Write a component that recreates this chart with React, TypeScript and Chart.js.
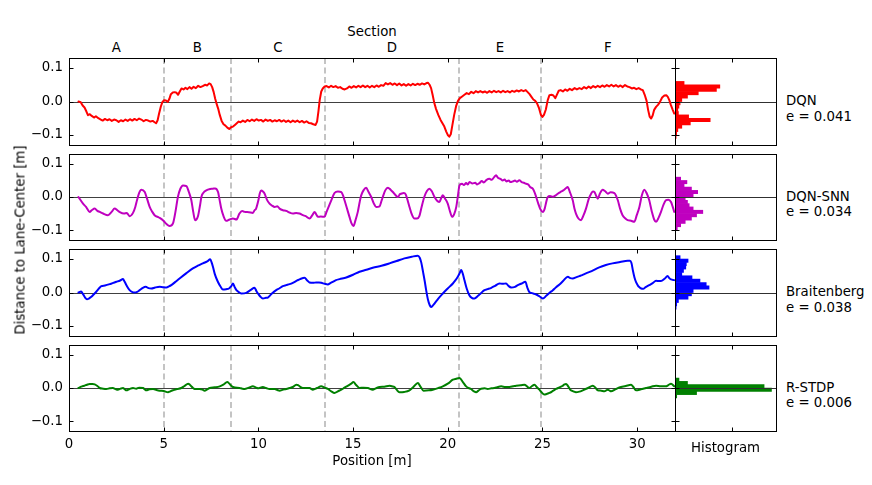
import React, { useEffect, useRef } from "react";
import { Chart, registerables } from "chart.js";
Chart.register(...registerables);

type Pt = [number, number];

// ---------------- DATA ----------------
const seriesNames = ["DQN", "DQN-SNN", "Braitenberg", "R-STDP"];
const seriesErrors = ["0.041", "0.034", "0.038", "0.006"];
const sectionNames = ["A", "B", "C", "D", "E", "F"];
const sectionBounds = [5.0, 8.55, 13.5, 20.6, 24.9];
const xTickValues = [0, 5, 10, 15, 20, 25, 30];
const yTickValues = [-0.1, 0, 0.1];
const histTickValues = [100];

// [position m, distance m]
const dqn: Pt[] = [
  [0.5,0],[0.62,-0.002],[0.72,-0.012],[0.82,-0.018],[0.92,-0.03],[1.0,-0.041],[1.1,-0.038],[1.2,-0.043],[1.32,-0.048],[1.42,-0.044],[1.55,-0.05],[1.68,-0.054],[1.78,-0.057],[1.9,-0.052],[2.02,-0.056],[2.14,-0.053],[2.26,-0.058],[2.38,-0.054],[2.5,-0.056],[2.62,-0.061],[2.74,-0.056],[2.86,-0.059],[2.98,-0.054],[3.1,-0.058],[3.22,-0.053],[3.34,-0.057],[3.46,-0.052],[3.58,-0.056],[3.7,-0.051],[3.82,-0.054],[3.94,-0.059],[4.06,-0.055],[4.18,-0.057],[4.3,-0.06],[4.42,-0.058],[4.52,-0.062],[4.6,-0.065],[4.68,-0.056],[4.76,-0.035],[4.85,-0.015],[4.93,-0.002],[5.02,0.004],[5.12,0.003],[5.22,-0.001],[5.3,0.008],[5.38,0.022],[5.48,0.027],[5.58,0.028],[5.68,0.026],[5.76,0.02],[5.85,0.03],[5.94,0.039],[6.05,0.036],[6.15,0.041],[6.25,0.037],[6.36,0.043],[6.47,0.038],[6.58,0.044],[6.7,0.04],[6.82,0.047],[6.94,0.043],[7.06,0.046],[7.18,0.05],[7.3,0.048],[7.4,0.054],[7.48,0.052],[7.56,0.043],[7.64,0.028],[7.72,0.008],[7.8,-0.008],[7.88,-0.022],[7.96,-0.04],[8.06,-0.058],[8.16,-0.068],[8.26,-0.072],[8.36,-0.078],[8.46,-0.082],[8.56,-0.077],[8.66,-0.075],[8.76,-0.07],[8.86,-0.065],[8.96,-0.06],[9.06,-0.062],[9.18,-0.057],[9.3,-0.061],[9.42,-0.055],[9.54,-0.059],[9.66,-0.054],[9.78,-0.058],[9.9,-0.053],[10.02,-0.057],[10.14,-0.055],[10.26,-0.06],[10.38,-0.054],[10.5,-0.058],[10.62,-0.055],[10.74,-0.06],[10.86,-0.056],[10.98,-0.059],[11.1,-0.055],[11.22,-0.06],[11.34,-0.056],[11.46,-0.061],[11.58,-0.057],[11.7,-0.062],[11.82,-0.057],[11.94,-0.061],[12.06,-0.057],[12.18,-0.062],[12.3,-0.058],[12.42,-0.063],[12.54,-0.059],[12.66,-0.064],[12.78,-0.065],[12.9,-0.068],[13.02,-0.07],[13.1,-0.06],[13.17,-0.03],[13.24,0.005],[13.32,0.03],[13.4,0.039],[13.5,0.045],[13.6,0.046],[13.72,0.042],[13.84,0.047],[13.96,0.043],[14.08,0.046],[14.2,0.041],[14.32,0.043],[14.44,0.038],[14.56,0.036],[14.68,0.039],[14.8,0.045],[14.92,0.041],[15.04,0.046],[15.16,0.042],[15.28,0.047],[15.4,0.043],[15.52,0.048],[15.64,0.043],[15.76,0.047],[15.88,0.042],[16.0,0.047],[16.12,0.043],[16.24,0.048],[16.36,0.044],[16.48,0.049],[16.6,0.047],[16.72,0.055],[16.84,0.051],[16.96,0.055],[17.08,0.05],[17.2,0.054],[17.32,0.049],[17.44,0.054],[17.56,0.048],[17.68,0.052],[17.8,0.047],[17.92,0.052],[18.04,0.048],[18.16,0.053],[18.28,0.049],[18.4,0.053],[18.52,0.05],[18.64,0.054],[18.76,0.051],[18.88,0.055],[18.96,0.056],[19.04,0.05],[19.12,0.04],[19.2,0.02],[19.28,-0.002],[19.38,-0.022],[19.5,-0.04],[19.62,-0.055],[19.72,-0.065],[19.82,-0.075],[19.92,-0.09],[20.0,-0.1],[20.08,-0.105],[20.16,-0.098],[20.24,-0.072],[20.34,-0.04],[20.44,-0.014],[20.54,0.002],[20.64,0.01],[20.76,0.015],[20.88,0.02],[21.0,0.025],[21.12,0.022],[21.24,0.029],[21.36,0.025],[21.48,0.031],[21.6,0.027],[21.72,0.031],[21.84,0.027],[21.96,0.03],[22.08,0.026],[22.2,0.031],[22.32,0.027],[22.44,0.032],[22.56,0.028],[22.68,0.031],[22.8,0.027],[22.92,0.032],[23.04,0.028],[23.16,0.031],[23.28,0.027],[23.4,0.032],[23.52,0.029],[23.64,0.033],[23.76,0.03],[23.88,0.034],[24.0,0.031],[24.12,0.034],[24.22,0.028],[24.32,0.022],[24.42,0.014],[24.52,0.006],[24.62,0.002],[24.72,-0.006],[24.82,-0.02],[24.92,-0.04],[25.0,-0.046],[25.08,-0.04],[25.18,-0.024],[25.28,0.004],[25.37,0.019],[25.48,0.02],[25.58,0.018],[25.68,0.01],[25.76,0.02],[25.86,0.032],[25.96,0.034],[26.08,0.03],[26.2,0.036],[26.32,0.032],[26.44,0.038],[26.56,0.034],[26.7,0.04],[26.82,0.036],[26.95,0.04],[27.08,0.037],[27.2,0.043],[27.32,0.039],[27.44,0.045],[27.56,0.04],[27.68,0.046],[27.8,0.042],[27.92,0.047],[28.04,0.043],[28.16,0.048],[28.28,0.044],[28.4,0.049],[28.52,0.045],[28.64,0.05],[28.76,0.045],[28.88,0.049],[29.0,0.044],[29.12,0.048],[29.24,0.043],[29.36,0.049],[29.48,0.045],[29.6,0.043],[29.72,0.039],[29.84,0.041],[29.96,0.037],[30.08,0.04],[30.2,0.036],[30.3,0.034],[30.4,0.02],[30.5,0.002],[30.58,-0.025],[30.66,-0.045],[30.74,-0.051],[30.82,-0.042],[30.9,-0.025],[31.0,-0.016],[31.1,-0.01],[31.2,-0.002],[31.32,0.012],[31.44,0.018],[31.54,0.019],[31.62,0.014],[31.7,0.004],[31.78,-0.01],[31.88,-0.025],[31.96,-0.036]
];

const dqnSnn: Pt[] = [
  [0.5,0],[0.74,-0.02],[0.9,-0.03],[1.09,-0.045],[1.2,-0.04],[1.36,-0.035],[1.5,-0.042],[1.62,-0.045],[1.8,-0.05],[2.06,-0.055],[2.25,-0.045],[2.41,-0.035],[2.55,-0.04],[2.67,-0.045],[2.9,-0.05],[3.05,-0.048],[3.2,-0.058],[3.38,-0.048],[3.5,-0.03],[3.59,-0.01],[3.7,0.012],[3.82,0.022],[4.0,0.015],[4.12,-0.005],[4.26,-0.03],[4.4,-0.045],[4.52,-0.055],[4.75,-0.062],[4.96,-0.07],[5.15,-0.082],[5.31,-0.088],[5.49,-0.08],[5.62,-0.045],[5.75,0],[5.88,0.025],[6.02,0.035],[6.2,0.033],[6.33,0.015],[6.46,-0.01],[6.56,-0.045],[6.66,-0.07],[6.81,-0.058],[6.92,-0.025],[6.99,0],[7.1,0.013],[7.25,0.02],[7.45,0.024],[7.6,0.025],[7.72,0.026],[7.87,0.015],[7.95,-0.008],[8.04,-0.035],[8.16,-0.058],[8.3,-0.072],[8.48,-0.068],[8.66,-0.065],[8.84,-0.068],[9.0,-0.05],[9.14,-0.042],[9.27,-0.045],[9.5,-0.046],[9.71,-0.048],[9.8,-0.04],[9.88,-0.035],[10.0,-0.01],[10.08,0.012],[10.15,0.02],[10.25,0.016],[10.33,0.01],[10.45,-0.008],[10.59,-0.02],[10.72,-0.026],[10.86,-0.03],[11.0,-0.028],[11.12,-0.035],[11.3,-0.04],[11.47,-0.042],[11.65,-0.047],[11.82,-0.05],[12.0,-0.048],[12.17,-0.05],[12.35,-0.055],[12.5,-0.058],[12.7,-0.065],[12.85,-0.055],[12.97,-0.045],[13.05,-0.052],[13.14,-0.06],[13.3,-0.059],[13.49,-0.06],[13.6,-0.045],[13.67,-0.035],[13.85,-0.01],[14.02,0.012],[14.2,0.017],[14.38,0.015],[14.47,0.005],[14.55,-0.01],[14.68,-0.035],[14.81,-0.06],[14.92,-0.08],[15.02,-0.088],[15.13,-0.07],[15.25,-0.045],[15.35,-0.015],[15.43,0.005],[15.55,0.02],[15.69,0.028],[15.82,0.015],[15.96,0],[16.1,-0.02],[16.22,-0.03],[16.4,-0.028],[16.5,-0.012],[16.57,0],[16.7,0.02],[16.84,0.028],[16.98,0.022],[17.1,0.015],[17.25,0.005],[17.37,0],[17.47,0.008],[17.55,0.01],[17.68,0.012],[17.78,0.008],[17.88,-0.01],[17.98,-0.03],[18.1,-0.052],[18.24,-0.065],[18.38,-0.065],[18.5,-0.058],[18.6,-0.035],[18.76,0],[18.9,0.018],[19.03,0.025],[19.15,0.018],[19.3,0],[19.45,-0.012],[19.56,-0.015],[19.66,-0.002],[19.74,0.005],[19.86,-0.005],[20.0,-0.02],[20.1,-0.04],[20.23,-0.06],[20.35,-0.05],[20.45,-0.03],[20.54,0.005],[20.62,0.035],[20.75,0.04],[20.85,0.036],[20.97,0.042],[21.06,0.038],[21.15,0.045],[21.3,0.041],[21.45,0.043],[21.55,0.038],[21.67,0.042],[21.8,0.048],[21.9,0.044],[22.05,0.052],[22.2,0.055],[22.32,0.052],[22.45,0.06],[22.55,0.066],[22.65,0.058],[22.78,0.055],[22.9,0.05],[23.0,0.053],[23.1,0.047],[23.22,0.05],[23.32,0.045],[23.43,0.047],[23.55,0.05],[23.65,0.046],[23.78,0.051],[23.9,0.045],[24.02,0.043],[24.14,0.04],[24.25,0.038],[24.35,0.03],[24.49,0.025],[24.58,0.015],[24.67,0],[24.78,-0.02],[24.9,-0.038],[25.02,-0.045],[25.12,-0.035],[25.2,-0.015],[25.28,0],[25.4,0.003],[25.55,0.001],[25.7,0.005],[25.81,0.01],[25.95,0.015],[26.1,0.02],[26.25,0.027],[26.33,0.03],[26.45,0.015],[26.6,-0.01],[26.69,-0.035],[26.77,-0.05],[26.9,-0.065],[27.04,-0.07],[27.15,-0.058],[27.3,-0.035],[27.45,-0.005],[27.57,0.01],[27.67,0.017],[27.75,0.015],[27.85,0.002],[27.92,-0.005],[28.03,0.01],[28.18,0.022],[28.3,0.018],[28.45,0.01],[28.6,0.014],[28.8,0.012],[28.9,0.002],[28.98,-0.01],[29.1,-0.035],[29.23,-0.055],[29.38,-0.065],[29.5,-0.07],[29.68,-0.072],[29.85,-0.075],[29.98,-0.055],[30.12,-0.03],[30.25,0.005],[30.38,0.022],[30.5,0.012],[30.64,-0.01],[30.78,-0.045],[30.9,-0.068],[31.0,-0.075],[31.13,-0.063],[31.26,-0.045],[31.4,-0.022],[31.52,-0.01],[31.65,-0.008],[31.79,-0.015],[31.88,-0.03],[31.96,-0.045]
];

const braitenberg: Pt[] = [
  [0.5,0],[0.64,0.003],[0.74,-0.005],[0.85,-0.015],[0.95,-0.02],[1.05,-0.018],[1.18,-0.013],[1.3,-0.006],[1.45,0.003],[1.58,0.012],[1.71,0.019],[1.9,0.021],[2.15,0.025],[2.3,0.028],[2.5,0.032],[2.7,0.036],[2.85,0.04],[2.94,0.032],[3.05,0.02],[3.2,0.007],[3.35,0.001],[3.47,0],[3.6,0.002],[3.73,0.007],[3.9,0.014],[4.05,0.017],[4.2,0.013],[4.35,0.012],[4.55,0.015],[4.79,0.017],[4.95,0.016],[5.14,0.015],[5.3,0.019],[5.4,0.022],[5.6,0.031],[5.84,0.042],[6.2,0.058],[6.54,0.072],[6.8,0.08],[7.07,0.087],[7.3,0.093],[7.46,0.099],[7.53,0.09],[7.6,0.077],[7.7,0.055],[7.86,0.032],[8.0,0.018],[8.13,0.009],[8.3,0.01],[8.45,0.012],[8.56,0.018],[8.66,0.027],[8.75,0.016],[8.84,0.007],[9.0,0],[9.1,-0.003],[9.36,-0.001],[9.6,0.008],[9.8,0.014],[9.9,0.004],[9.98,-0.003],[10.1,-0.012],[10.24,-0.018],[10.4,-0.016],[10.5,-0.015],[10.7,-0.004],[10.94,0.007],[11.1,0.012],[11.29,0.019],[11.47,0.022],[11.65,0.025],[11.82,0.029],[12.05,0.036],[12.2,0.04],[12.44,0.044],[12.58,0.036],[12.7,0.03],[12.9,0.029],[13.05,0.03],[13.2,0.03],[13.32,0.029],[13.5,0.026],[13.67,0.024],[13.8,0.028],[13.93,0.032],[14.1,0.037],[14.29,0.04],[14.64,0.045],[15.0,0.053],[15.34,0.062],[15.7,0.068],[16.04,0.074],[16.5,0.08],[16.92,0.087],[17.3,0.094],[17.71,0.102],[18.1,0.107],[18.42,0.11],[18.52,0.104],[18.6,0.09],[18.7,0.06],[18.78,0.035],[18.86,0.007],[18.95,-0.02],[19.05,-0.038],[19.12,-0.043],[19.2,-0.04],[19.3,-0.033],[19.5,-0.018],[19.74,-0.003],[20.0,0.012],[20.27,0.027],[20.4,0.036],[20.53,0.047],[20.63,0.058],[20.71,0.067],[20.8,0.055],[20.88,0.037],[21.0,0.012],[21.14,-0.008],[21.27,-0.016],[21.41,-0.018],[21.6,-0.01],[21.75,-0.002],[21.94,0.007],[22.1,0.01],[22.3,0.014],[22.5,0.02],[22.73,0.027],[22.9,0.026],[23.08,0.027],[23.2,0.02],[23.35,0.015],[23.55,0.017],[23.7,0.022],[23.9,0.027],[24.1,0.032],[24.2,0.015],[24.3,0.002],[24.45,-0.002],[24.67,-0.006],[24.85,-0.012],[25.02,-0.018],[25.2,-0.01],[25.35,-0.002],[25.55,0.007],[25.72,0.016],[25.9,0.024],[26.1,0.035],[26.34,0.047],[26.47,0.043],[26.6,0.042],[26.8,0.046],[26.95,0.049],[27.1,0.052],[27.3,0.057],[27.6,0.064],[28.0,0.075],[28.35,0.082],[28.7,0.087],[29.1,0.091],[29.5,0.095],[29.62,0.095],[29.7,0.088],[29.78,0.065],[29.86,0.045],[29.95,0.03],[30.05,0.02],[30.12,0.016],[30.22,0.012],[30.32,0.011],[30.45,0.016],[30.64,0.022],[30.82,0.028],[31.0,0.035],[31.15,0.034],[31.26,0.034],[31.45,0.041],[31.61,0.049],[31.7,0.043],[31.79,0.039],[31.96,0.037]
];

const rstdp: Pt[] = [
  [0.5,0],[0.65,0.004],[0.8,0.007],[0.95,0.01],[1.09,0.012],[1.25,0.012],[1.36,0.011],[1.5,0.006],[1.62,0],[1.8,-0.002],[1.97,-0.003],[2.15,-0.001],[2.32,0],[2.45,-0.003],[2.58,-0.005],[2.72,-0.002],[2.85,0],[2.95,-0.004],[3.03,-0.007],[3.2,-0.003],[3.38,0],[3.55,-0.002],[3.7,0.001],[3.91,0],[4.0,-0.004],[4.08,-0.007],[4.25,-0.004],[4.44,-0.003],[4.62,-0.006],[4.79,-0.008],[5.0,-0.009],[5.23,-0.013],[5.35,-0.01],[5.49,-0.007],[5.7,-0.003],[5.93,0],[6.1,0.006],[6.29,0.013],[6.38,0.01],[6.46,0.005],[6.55,0],[6.63,-0.003],[6.9,-0.003],[7.05,-0.005],[7.16,-0.008],[7.3,-0.004],[7.43,0],[7.7,0.002],[7.96,0.005],[8.15,0.01],[8.36,0.018],[8.45,0.014],[8.55,0.008],[8.66,0.003],[9.0,0],[9.15,-0.002],[9.27,-0.003],[9.5,0.001],[9.71,0.005],[9.85,0.002],[9.98,-0.001],[10.1,0.001],[10.24,0.003],[10.4,0],[10.59,-0.003],[10.86,-0.003],[11.0,-0.006],[11.12,-0.008],[11.3,-0.005],[11.47,-0.003],[11.65,0],[11.82,0.003],[12.0,0.01],[12.1,0.009],[12.2,0.004],[12.35,0],[12.7,0],[12.88,-0.005],[13.1,0],[13.32,0.005],[13.5,0.001],[13.67,-0.003],[13.85,-0.01],[14.02,-0.015],[14.2,-0.01],[14.38,-0.005],[14.55,0.001],[14.73,0.007],[14.9,0.013],[15.02,0.018],[15.15,0.01],[15.34,0],[15.55,0.001],[15.78,0],[16.04,-0.005],[16.2,-0.001],[16.4,0.003],[16.65,0.004],[16.92,0.007],[17.05,0.005],[17.19,0.003],[17.3,-0.005],[17.45,-0.013],[17.7,-0.012],[17.98,-0.007],[18.2,0.004],[18.42,0.015],[18.55,0.005],[18.72,-0.008],[19.0,-0.007],[19.21,-0.005],[19.5,0],[19.74,0.005],[20.0,0.013],[20.27,0.025],[20.45,0.028],[20.62,0.03],[20.8,0.018],[20.97,0.005],[21.1,0],[21.23,-0.003],[21.38,-0.01],[21.5,-0.013],[21.62,-0.008],[21.76,-0.002],[21.95,-0.001],[22.11,-0.003],[22.3,-0.001],[22.46,0],[22.65,0.003],[22.82,0.005],[23.05,0.003],[23.26,0.003],[23.45,0.005],[23.61,0.007],[23.85,0.008],[24.05,0.01],[24.2,0.004],[24.31,0],[24.45,0.006],[24.58,0.01],[24.7,0.003],[24.84,-0.005],[24.95,-0.013],[25.1,-0.02],[25.22,-0.018],[25.37,-0.015],[25.55,-0.009],[25.72,-0.003],[25.9,0.002],[26.05,0.006],[26.14,0.01],[26.25,0.012],[26.35,0.006],[26.5,-0.007],[26.63,-0.01],[26.77,-0.013],[26.95,-0.011],[27.13,-0.007],[27.4,0],[27.66,0.007],[27.8,0.001],[27.92,-0.007],[28.1,-0.008],[28.27,-0.01],[28.45,-0.005],[28.55,-0.008],[28.62,-0.01],[28.85,-0.004],[29.06,0.002],[29.4,0.006],[29.68,0.01],[29.8,0.003],[29.94,-0.007],[30.2,-0.004],[30.47,0],[30.75,0.004],[31.0,0.007],[31.25,0.005],[31.52,0.005],[31.65,0.009],[31.79,0.013],[31.96,0.005]
];

// histogram: [bin centre m, count]
const dqnHist: Pt[] = [[0.055,16],[0.045,79],[0.035,73],[0.025,41],[0.015,22],[0.005,12],[-0.005,9],[-0.015,7],[-0.025,5],[-0.035,6],[-0.045,24],[-0.055,62],[-0.065,27],[-0.075,12],[-0.085,5],[-0.095,3],[-0.105,2]];
const dqnSnnHist: Pt[] = [[0.055,10],[0.045,21],[0.035,16],[0.025,29],[0.015,40],[0.005,32],[-0.005,18],[-0.015,22],[-0.025,25],[-0.035,32],[-0.045,49],[-0.055,38],[-0.065,29],[-0.075,18],[-0.085,10],[-0.095,4]];
const braitenbergHist: Pt[] = [[0.105,9],[0.095,23],[0.085,20],[0.075,19],[0.065,15],[0.055,12],[0.045,30],[0.035,44],[0.025,55],[0.015,60],[0.005,32],[-0.005,29],[-0.015,23],[-0.025,6],[-0.035,3],[-0.045,2]];
const rstdpHist: Pt[] = [[0.025,7],[0.015,22],[0.005,157],[-0.005,170],[-0.015,38],[-0.025,3]];

const seriesLines = [dqn, dqnSnn, braitenberg, rstdp];
const seriesHists = [dqnHist, dqnSnnHist, braitenbergHist, rstdpHist];

// ---------------- STYLE / LAYOUT ----------------
const COLORS = ["#ff0000", "#bf00bf", "#0000ff", "#008000"];
const SMOOTH = [false, true, true, true];
const FONT = '"DejaVu Sans", Verdana, sans-serif';
const FS = 13.3;
const X_MIN = 0, X_MAX = 32, Y_MIN = -0.13, Y_MAX = 0.13, HIST_MAX = 178;
const PLOT_L = 69, PLOT_R = 675, HIST_L = 675, HIST_R = 776;
const ROW_TOP = [58, 154, 249, 345];
const ROW_BOT = [145, 240, 336, 431];
const X_AXIS_H = 24;
const TL = 4;

const xPx = (v: number) => PLOT_L + ((v - X_MIN) / (X_MAX - X_MIN)) * (PLOT_R - PLOT_L);
const rowZero = (i: number) => (ROW_TOP[i] + ROW_BOT[i]) / 2;

const fmtY = (v: any) => {
  const n = Number(v);
  if (Math.abs(n) < 1e-9) return "0.0";
  return (n < 0 ? "\u2212" : "") + Math.abs(n).toFixed(1);
};

const fixTicks = (vals: number[]) => (s: any) => {
  s.ticks = vals.map((v) => ({ value: v }));
};
const noPad = (s: any) => {
  s.paddingTop = 0;
  s.paddingBottom = 0;
  s.paddingLeft = 0;
  s.paddingRight = 0;
};

function decor(kind: "main" | "hist") {
  return {
    id: "decor_" + kind,
    beforeDatasetsDraw(chart: any) {
      if (kind !== "main") return;
      const { ctx, chartArea: a } = chart;
      const xs = chart.scales.x, ys = chart.scales.y;
      ctx.save();
      ctx.strokeStyle = "#c4c4c4";
      ctx.lineWidth = 2;
      ctx.setLineDash([6, 3.5]);
      for (const b of sectionBounds) {
        const px = Math.round(xs.getPixelForValue(b));
        ctx.beginPath();
        ctx.moveTo(px, a.top);
        ctx.lineTo(px, a.bottom);
        ctx.stroke();
      }
      ctx.setLineDash([]);
      const zy = Math.round(ys.getPixelForValue(0)) + 0.5;
      ctx.strokeStyle = "#404040";
      ctx.lineWidth = 1;
      ctx.beginPath();
      ctx.moveTo(a.left, zy);
      ctx.lineTo(a.right, zy);
      ctx.stroke();
      ctx.restore();
    },
    afterDatasetsDraw(chart: any) {
      const { ctx, chartArea: a } = chart;
      const xs = chart.scales.x, ys = chart.scales.y;
      const L = Math.round(a.left) + 0.5, R = Math.round(a.right) + 0.5;
      const T = Math.round(a.top) + 0.5, B = Math.round(a.bottom) + 0.5;
      ctx.save();
      ctx.lineWidth = 1;
      if (kind === "hist") {
        const zy = Math.round(ys.getPixelForValue(0)) + 0.5;
        ctx.strokeStyle = "#303030";
        ctx.beginPath();
        ctx.moveTo(a.left, zy);
        ctx.lineTo(a.right, zy);
        ctx.stroke();
      }
      ctx.strokeStyle = "#000";
      ctx.beginPath();
      if (kind === "main") {
        for (const t of xTickValues) {
          if (t <= X_MIN || t >= X_MAX) continue;
          const px = Math.round(xs.getPixelForValue(t)) + 0.5;
          ctx.moveTo(px, T); ctx.lineTo(px, T + TL);
          ctx.moveTo(px, B); ctx.lineTo(px, B - TL);
        }
        for (const t of yTickValues) {
          const py = Math.round(ys.getPixelForValue(t)) + 0.5;
          ctx.moveTo(L, py); ctx.lineTo(L + TL, py);
          ctx.moveTo(R, py); ctx.lineTo(R - TL, py);
        }
      } else {
        for (const t of histTickValues) {
          const px = Math.round(xs.getPixelForValue(t)) + 0.5;
          ctx.moveTo(px, T); ctx.lineTo(px, T + TL);
          ctx.moveTo(px, B); ctx.lineTo(px, B - TL);
        }
        for (const t of yTickValues) {
          const py = Math.round(ys.getPixelForValue(t)) + 0.5;
          ctx.moveTo(L, py); ctx.lineTo(L + TL, py);
        }
      }
      ctx.stroke();
      ctx.strokeRect(L, T, R - L, B - T);
      ctx.restore();
    },
  };
}

function MainRow({ i }: { i: number }) {
  const ref = useRef<HTMLCanvasElement>(null);
  const last = i === 3;
  const height = ROW_BOT[i] - ROW_TOP[i] + 1 + (last ? X_AXIS_H : 1);
  const width = PLOT_R + 2;
  useEffect(() => {
    const tickFont = { family: FONT, size: FS };
    const chart = new Chart(ref.current!, {
      type: "line",
      data: {
        datasets: [
          {
            data: seriesLines[i].map(([x, y]) => ({ x, y })),
            borderColor: COLORS[i],
            borderWidth: 2,
            pointRadius: 0,
            fill: false,
            tension: SMOOTH[i] ? 0.4 : 0,
            cubicInterpolationMode: SMOOTH[i] ? "monotone" : "default",
            borderJoinStyle: "round",
            borderCapStyle: "round",
          } as any,
        ],
      },
      options: {
        animation: false,
        responsive: false,
        events: [],
        layout: { autoPadding: false, padding: { left: 0, right: 2, top: 1, bottom: last ? 0 : 1 } },
        plugins: { legend: { display: false }, tooltip: { enabled: false } },
        scales: {
          x: {
            type: "linear",
            min: X_MIN,
            max: X_MAX,
            bounds: "data",
            display: last,
            grid: { display: false, drawTicks: false },
            border: { display: false },
            ticks: {
              autoSkip: false,
              maxRotation: 0,
              padding: 6,
              color: "#000",
              font: tickFont,
            },
            afterBuildTicks: fixTicks(xTickValues),
            afterFit: (s: any) => {
              noPad(s);
              if (last) s.height = X_AXIS_H;
            },
          },
          y: {
            type: "linear",
            min: Y_MIN,
            max: Y_MAX,
            bounds: "data",
            grid: { display: false, drawTicks: false },
            border: { display: false },
            ticks: {
              autoSkip: false,
              padding: 6,
              color: "#000",
              font: tickFont,
              callback: fmtY,
            },
            afterBuildTicks: fixTicks(yTickValues),
            afterFit: (s: any) => {
              noPad(s);
              s.width = PLOT_L;
            },
          },
        },
      } as any,
      plugins: [decor("main")],
    });
    return () => chart.destroy();
  }, []);
  return (
    <canvas
      ref={ref}
      width={width}
      height={height}
      style={{ position: "absolute", left: 0, top: ROW_TOP[i] - 1, width, height }}
    />
  );
}

function HistRow({ i }: { i: number }) {
  const ref = useRef<HTMLCanvasElement>(null);
  const height = ROW_BOT[i] - ROW_TOP[i] + 2;
  const width = HIST_R - HIST_L + 3;
  useEffect(() => {
    const chart = new Chart(ref.current!, {
      type: "bar",
      data: {
        datasets: [
          {
            data: seriesHists[i].map(([c, n]) => ({ x: n, y: c })),
            backgroundColor: COLORS[i],
            borderWidth: 0,
            barPercentage: 1,
            categoryPercentage: 1,
          } as any,
        ],
      },
      options: {
        indexAxis: "y",
        animation: false,
        responsive: false,
        events: [],
        layout: { autoPadding: false, padding: { left: 1, right: 2, top: 1, bottom: 1 } },
        plugins: { legend: { display: false }, tooltip: { enabled: false } },
        scales: {
          x: { type: "linear", min: 0, max: HIST_MAX, bounds: "data", display: false, afterBuildTicks: fixTicks(histTickValues), afterFit: noPad },
          y: { type: "linear", min: Y_MIN, max: Y_MAX, bounds: "data", display: false, offset: false, afterBuildTicks: fixTicks(yTickValues), afterFit: noPad },
        },
      } as any,
      plugins: [decor("hist")],
    });
    return () => chart.destroy();
  }, []);
  return (
    <canvas
      ref={ref}
      width={width}
      height={height}
      style={{ position: "absolute", left: HIST_L - 1, top: ROW_TOP[i] - 1, width, height }}
    />
  );
}

function Label({ x, y, children, left }: { x: number; y: number; children: any; left?: boolean }) {
  return (
    <div
      style={{
        position: "absolute",
        left: x,
        top: y,
        transform: left ? "translate(0,-50%)" : "translate(-50%,-50%)",
        font: `${FS}px ${FONT}`,
        lineHeight: "normal",
        whiteSpace: "nowrap",
        color: "#000",
      }}
    >
      {children}
    </div>
  );
}

export default function App() {
  const edges = [X_MIN, ...sectionBounds, X_MAX];
  return (
    <div style={{ position: "absolute", left: 0, top: 0, width: 872, height: 485, background: "#fff", overflow: "hidden" }}>
      {[0, 1, 2, 3].map((i) => <MainRow key={"m" + i} i={i} />)}
      {[0, 1, 2, 3].map((i) => <HistRow key={"h" + i} i={i} />)}
      <Label x={(PLOT_L + PLOT_R) / 2} y={30.5}>Section</Label>
      {sectionNames.map((n, k) => (
        <Label key={n} x={xPx((edges[k] + edges[k + 1]) / 2)} y={46.5}>{n}</Label>
      ))}
      {seriesNames.map((n, i) => (
        <React.Fragment key={n}>
          <Label x={786} y={rowZero(i) - 1.5} left>{n}</Label>
          <Label x={786} y={rowZero(i) + 14} left>{"e = " + seriesErrors[i]}</Label>
        </React.Fragment>
      ))}
      <Label x={(PLOT_L + PLOT_R) / 2} y={460}>Position [m]</Label>
      <Label x={(HIST_L + HIST_R) / 2} y={447}>Histogram</Label>
      <div
        style={{
          position: "absolute",
          left: 19.5,
          top: 240,
          transform: "translate(-50%,-50%) rotate(-90deg)",
          font: `${FS}px ${FONT}`,
          lineHeight: "normal",
          whiteSpace: "nowrap",
          color: "#000",
        }}
      >
        Distance to Lane-Center [m]
      </div>
    </div>
  );
}
